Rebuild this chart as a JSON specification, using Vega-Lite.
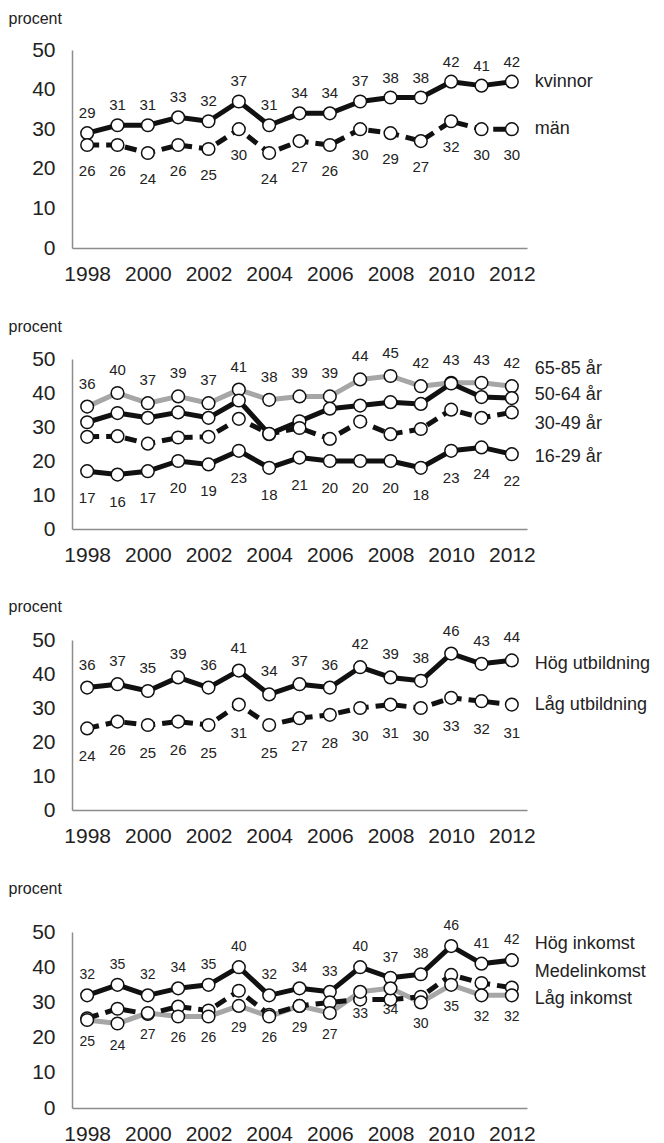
{
  "$schema": "https://vega.github.io/schema/vega-lite/v6.json",
  "background": "white",
  "padding": {"left": 8, "top": 10, "right": 0, "bottom": 0},
  "config": {
    "view": {"stroke": null},
    "font": "Liberation Sans",
    "axis": {
      "domainColor": "#8c8c8c",
      "domainWidth": 1.5,
      "ticks": false,
      "grid": false,
      "labelFont": "Liberation Sans",
      "labelFontSize": 21,
      "labelColor": "#222222",
      "labelOverlap": false,
      "titleFont": "Liberation Sans",
      "titleFontSize": 16,
      "titleFontWeight": "normal",
      "titleColor": "#222222"
    },
    "text": {"font": "Liberation Sans", "color": "#222222"},
    "line": {"strokeWidth": 5, "strokeCap": "butt", "strokeJoin": "round"}
  },
  "datasets": {
    "p1": [
      {"year": 1998, "series": "kvinnor", "value": 29}, {"year": 1999, "series": "kvinnor", "value": 31}, {"year": 2000, "series": "kvinnor", "value": 31}, {"year": 2001, "series": "kvinnor", "value": 33}, {"year": 2002, "series": "kvinnor", "value": 32}, {"year": 2003, "series": "kvinnor", "value": 37}, {"year": 2004, "series": "kvinnor", "value": 31}, {"year": 2005, "series": "kvinnor", "value": 34}, {"year": 2006, "series": "kvinnor", "value": 34}, {"year": 2007, "series": "kvinnor", "value": 37}, {"year": 2008, "series": "kvinnor", "value": 38}, {"year": 2009, "series": "kvinnor", "value": 38}, {"year": 2010, "series": "kvinnor", "value": 42}, {"year": 2011, "series": "kvinnor", "value": 41}, {"year": 2012, "series": "kvinnor", "value": 42},
      {"year": 1998, "series": "män", "value": 26}, {"year": 1999, "series": "män", "value": 26}, {"year": 2000, "series": "män", "value": 24}, {"year": 2001, "series": "män", "value": 26}, {"year": 2002, "series": "män", "value": 25}, {"year": 2003, "series": "män", "value": 30}, {"year": 2004, "series": "män", "value": 24}, {"year": 2005, "series": "män", "value": 27}, {"year": 2006, "series": "män", "value": 26}, {"year": 2007, "series": "män", "value": 30}, {"year": 2008, "series": "män", "value": 29}, {"year": 2009, "series": "män", "value": 27}, {"year": 2010, "series": "män", "value": 32}, {"year": 2011, "series": "män", "value": 30}, {"year": 2012, "series": "män", "value": 30}
    ],
    "p2": [
      {"year": 1998, "series": "65-85 år", "value": 36}, {"year": 1999, "series": "65-85 år", "value": 40}, {"year": 2000, "series": "65-85 år", "value": 37}, {"year": 2001, "series": "65-85 år", "value": 39}, {"year": 2002, "series": "65-85 år", "value": 37}, {"year": 2003, "series": "65-85 år", "value": 41}, {"year": 2004, "series": "65-85 år", "value": 38}, {"year": 2005, "series": "65-85 år", "value": 39}, {"year": 2006, "series": "65-85 år", "value": 39}, {"year": 2007, "series": "65-85 år", "value": 44}, {"year": 2008, "series": "65-85 år", "value": 45}, {"year": 2009, "series": "65-85 år", "value": 42}, {"year": 2010, "series": "65-85 år", "value": 43}, {"year": 2011, "series": "65-85 år", "value": 43}, {"year": 2012, "series": "65-85 år", "value": 42},
      {"year": 1998, "series": "50-64 år", "value": 31.4}, {"year": 1999, "series": "50-64 år", "value": 34.1}, {"year": 2000, "series": "50-64 år", "value": 32.7}, {"year": 2001, "series": "50-64 år", "value": 34.3}, {"year": 2002, "series": "50-64 år", "value": 32.7}, {"year": 2003, "series": "50-64 år", "value": 37.8}, {"year": 2004, "series": "50-64 år", "value": 27.9}, {"year": 2005, "series": "50-64 år", "value": 31.7}, {"year": 2006, "series": "50-64 år", "value": 35.4}, {"year": 2007, "series": "50-64 år", "value": 36.3}, {"year": 2008, "series": "50-64 år", "value": 37.3}, {"year": 2009, "series": "50-64 år", "value": 36.8}, {"year": 2010, "series": "50-64 år", "value": 42.8}, {"year": 2011, "series": "50-64 år", "value": 38.8}, {"year": 2012, "series": "50-64 år", "value": 38.5},
      {"year": 1998, "series": "30-49 år", "value": 27.1}, {"year": 1999, "series": "30-49 år", "value": 27.3}, {"year": 2000, "series": "30-49 år", "value": 25.1}, {"year": 2001, "series": "30-49 år", "value": 26.9}, {"year": 2002, "series": "30-49 år", "value": 27.1}, {"year": 2003, "series": "30-49 år", "value": 32.4}, {"year": 2004, "series": "30-49 år", "value": 28.0}, {"year": 2005, "series": "30-49 år", "value": 29.7}, {"year": 2006, "series": "30-49 år", "value": 26.5}, {"year": 2007, "series": "30-49 år", "value": 31.6}, {"year": 2008, "series": "30-49 år", "value": 27.9}, {"year": 2009, "series": "30-49 år", "value": 29.4}, {"year": 2010, "series": "30-49 år", "value": 35.1}, {"year": 2011, "series": "30-49 år", "value": 32.7}, {"year": 2012, "series": "30-49 år", "value": 34.3},
      {"year": 1998, "series": "16-29 år", "value": 17}, {"year": 1999, "series": "16-29 år", "value": 16}, {"year": 2000, "series": "16-29 år", "value": 17}, {"year": 2001, "series": "16-29 år", "value": 20}, {"year": 2002, "series": "16-29 år", "value": 19}, {"year": 2003, "series": "16-29 år", "value": 23}, {"year": 2004, "series": "16-29 år", "value": 18}, {"year": 2005, "series": "16-29 år", "value": 21}, {"year": 2006, "series": "16-29 år", "value": 20}, {"year": 2007, "series": "16-29 år", "value": 20}, {"year": 2008, "series": "16-29 år", "value": 20}, {"year": 2009, "series": "16-29 år", "value": 18}, {"year": 2010, "series": "16-29 år", "value": 23}, {"year": 2011, "series": "16-29 år", "value": 24}, {"year": 2012, "series": "16-29 år", "value": 22}
    ],
    "p3": [
      {"year": 1998, "series": "Hög utbildning", "value": 36}, {"year": 1999, "series": "Hög utbildning", "value": 37}, {"year": 2000, "series": "Hög utbildning", "value": 35}, {"year": 2001, "series": "Hög utbildning", "value": 39}, {"year": 2002, "series": "Hög utbildning", "value": 36}, {"year": 2003, "series": "Hög utbildning", "value": 41}, {"year": 2004, "series": "Hög utbildning", "value": 34}, {"year": 2005, "series": "Hög utbildning", "value": 37}, {"year": 2006, "series": "Hög utbildning", "value": 36}, {"year": 2007, "series": "Hög utbildning", "value": 42}, {"year": 2008, "series": "Hög utbildning", "value": 39}, {"year": 2009, "series": "Hög utbildning", "value": 38}, {"year": 2010, "series": "Hög utbildning", "value": 46}, {"year": 2011, "series": "Hög utbildning", "value": 43}, {"year": 2012, "series": "Hög utbildning", "value": 44},
      {"year": 1998, "series": "Låg utbildning", "value": 24}, {"year": 1999, "series": "Låg utbildning", "value": 26}, {"year": 2000, "series": "Låg utbildning", "value": 25}, {"year": 2001, "series": "Låg utbildning", "value": 26}, {"year": 2002, "series": "Låg utbildning", "value": 25}, {"year": 2003, "series": "Låg utbildning", "value": 31}, {"year": 2004, "series": "Låg utbildning", "value": 25}, {"year": 2005, "series": "Låg utbildning", "value": 27}, {"year": 2006, "series": "Låg utbildning", "value": 28}, {"year": 2007, "series": "Låg utbildning", "value": 30}, {"year": 2008, "series": "Låg utbildning", "value": 31}, {"year": 2009, "series": "Låg utbildning", "value": 30}, {"year": 2010, "series": "Låg utbildning", "value": 33}, {"year": 2011, "series": "Låg utbildning", "value": 32}, {"year": 2012, "series": "Låg utbildning", "value": 31}
    ],
    "p4": [
      {"year": 1998, "series": "Hög inkomst", "value": 32}, {"year": 1999, "series": "Hög inkomst", "value": 35}, {"year": 2000, "series": "Hög inkomst", "value": 32}, {"year": 2001, "series": "Hög inkomst", "value": 34}, {"year": 2002, "series": "Hög inkomst", "value": 35}, {"year": 2003, "series": "Hög inkomst", "value": 40}, {"year": 2004, "series": "Hög inkomst", "value": 32}, {"year": 2005, "series": "Hög inkomst", "value": 34}, {"year": 2006, "series": "Hög inkomst", "value": 33}, {"year": 2007, "series": "Hög inkomst", "value": 40}, {"year": 2008, "series": "Hög inkomst", "value": 37}, {"year": 2009, "series": "Hög inkomst", "value": 38}, {"year": 2010, "series": "Hög inkomst", "value": 46}, {"year": 2011, "series": "Hög inkomst", "value": 41}, {"year": 2012, "series": "Hög inkomst", "value": 42},
      {"year": 1998, "series": "Medelinkomst", "value": 25.5}, {"year": 1999, "series": "Medelinkomst", "value": 28.2}, {"year": 2000, "series": "Medelinkomst", "value": 26.7}, {"year": 2001, "series": "Medelinkomst", "value": 28.8}, {"year": 2002, "series": "Medelinkomst", "value": 27.7}, {"year": 2003, "series": "Medelinkomst", "value": 33.3}, {"year": 2004, "series": "Medelinkomst", "value": 26.5}, {"year": 2005, "series": "Medelinkomst", "value": 29.0}, {"year": 2006, "series": "Medelinkomst", "value": 30.0}, {"year": 2007, "series": "Medelinkomst", "value": 30.8}, {"year": 2008, "series": "Medelinkomst", "value": 30.8}, {"year": 2009, "series": "Medelinkomst", "value": 31.6}, {"year": 2010, "series": "Medelinkomst", "value": 37.8}, {"year": 2011, "series": "Medelinkomst", "value": 35.5}, {"year": 2012, "series": "Medelinkomst", "value": 34.2},
      {"year": 1998, "series": "Låg inkomst", "value": 25}, {"year": 1999, "series": "Låg inkomst", "value": 24}, {"year": 2000, "series": "Låg inkomst", "value": 27}, {"year": 2001, "series": "Låg inkomst", "value": 26}, {"year": 2002, "series": "Låg inkomst", "value": 26}, {"year": 2003, "series": "Låg inkomst", "value": 29}, {"year": 2004, "series": "Låg inkomst", "value": 26}, {"year": 2005, "series": "Låg inkomst", "value": 29}, {"year": 2006, "series": "Låg inkomst", "value": 27}, {"year": 2007, "series": "Låg inkomst", "value": 33}, {"year": 2008, "series": "Låg inkomst", "value": 34}, {"year": 2009, "series": "Låg inkomst", "value": 30}, {"year": 2010, "series": "Låg inkomst", "value": 35}, {"year": 2011, "series": "Låg inkomst", "value": 32}, {"year": 2012, "series": "Låg inkomst", "value": 32}
    ]
  },
  "bounds": "flush",
  "spacing": 111,
  "vconcat": [
    {
      "width": 455,
      "height": 198,
      "data": {"name": "p1"},
      "encoding": {
        "x": {"field": "year", "type": "quantitative", "scale": {"domain": [1997.5, 2012.5], "nice": false, "zero": false}, "axis": {"values": [1998, 2000, 2002, 2004, 2006, 2008, 2010, 2012], "format": "d", "title": null, "labelPadding": 15, "labelFlush": false}},
        "y": {"field": "value", "type": "quantitative", "scale": {"domain": [0, 50], "nice": false}, "axis": {"values": [0, 10, 20, 30, 40, 50], "title": "procent", "titleAngle": 0, "titleAlign": "left", "titleBaseline": "middle", "titleX": -64, "titleY": -32, "labelPadding": 17}}
      },
      "layer": [
        {"transform": [{"filter": "datum.series === 'kvinnor'"}], "mark": {"type": "line", "color": "#111111"}, "encoding": {}},
        {"transform": [{"filter": "datum.series === 'män'"}], "mark": {"type": "line", "color": "#111111", "strokeDash": [12, 7]}, "encoding": {}},
        {"mark": {"type": "point", "shape": "circle", "filled": true, "fill": "white", "stroke": "#111111", "strokeWidth": 1.5, "size": 160, "opacity": 1}, "encoding": {"detail": {"field": "series", "type": "nominal"}}},
        {"transform": [{"filter": "datum.series === 'kvinnor'"}], "mark": {"type": "text", "fontSize": 15, "dy": -20, "baseline": "middle"}, "encoding": {"text": {"field": "value", "type": "quantitative", "format": ".0f"}}},
        {"transform": [{"filter": "datum.series === 'män'"}], "mark": {"type": "text", "fontSize": 15, "dy": 26, "baseline": "middle"}, "encoding": {"text": {"field": "value", "type": "quantitative", "format": ".0f"}}},
        {"transform": [{"filter": "datum.year === 2012"}], "mark": {"type": "text", "fontSize": 18, "align": "left", "baseline": "middle", "dx": 23}, "encoding": {"text": {"field": "series", "type": "nominal"}}}
      ]
    },
    {
      "width": 455,
      "height": 170,
      "data": {"name": "p2"},
      "encoding": {
        "x": {"field": "year", "type": "quantitative", "scale": {"domain": [1997.5, 2012.5], "nice": false, "zero": false}, "axis": {"values": [1998, 2000, 2002, 2004, 2006, 2008, 2010, 2012], "format": "d", "title": null, "labelPadding": 15, "labelFlush": false}},
        "y": {"field": "value", "type": "quantitative", "scale": {"domain": [0, 50], "nice": false}, "axis": {"values": [0, 10, 20, 30, 40, 50], "title": "procent", "titleAngle": 0, "titleAlign": "left", "titleBaseline": "middle", "titleX": -64, "titleY": -33, "labelPadding": 17}}
      },
      "layer": [
        {"transform": [{"filter": "datum.series === '65-85 år'"}], "mark": {"type": "line", "color": "#a6a6a6"}, "encoding": {}},
        {"transform": [{"filter": "datum.series === '50-64 år'"}], "mark": {"type": "line", "color": "#111111"}, "encoding": {}},
        {"transform": [{"filter": "datum.series === '30-49 år'"}], "mark": {"type": "line", "color": "#111111", "strokeDash": [12, 7]}, "encoding": {}},
        {"transform": [{"filter": "datum.series === '16-29 år'"}], "mark": {"type": "line", "color": "#111111"}, "encoding": {}},
        {"mark": {"type": "point", "shape": "circle", "filled": true, "fill": "white", "stroke": "#111111", "strokeWidth": 1.5, "size": 160, "opacity": 1}, "encoding": {"detail": {"field": "series", "type": "nominal"}}},
        {"transform": [{"filter": "datum.series === '65-85 år'"}], "mark": {"type": "text", "fontSize": 15, "dy": -23, "baseline": "middle"}, "encoding": {"text": {"field": "value", "type": "quantitative", "format": ".0f"}}},
        {"transform": [{"filter": "datum.series === '16-29 år'"}], "mark": {"type": "text", "fontSize": 15, "dy": 27, "baseline": "middle"}, "encoding": {"text": {"field": "value", "type": "quantitative", "format": ".0f"}}},
        {"transform": [{"filter": "datum.year === 2012 && datum.series === '65-85 år'"}], "mark": {"type": "text", "fontSize": 18, "align": "left", "baseline": "middle", "dx": 23, "dy": -17}, "encoding": {"text": {"field": "series", "type": "nominal"}}},
        {"transform": [{"filter": "datum.year === 2012 && datum.series === '50-64 år'"}], "mark": {"type": "text", "fontSize": 18, "align": "left", "baseline": "middle", "dx": 23, "dy": -3}, "encoding": {"text": {"field": "series", "type": "nominal"}}},
        {"transform": [{"filter": "datum.year === 2012 && datum.series === '30-49 år'"}], "mark": {"type": "text", "fontSize": 18, "align": "left", "baseline": "middle", "dx": 23, "dy": 12}, "encoding": {"text": {"field": "series", "type": "nominal"}}},
        {"transform": [{"filter": "datum.year === 2012 && datum.series === '16-29 år'"}], "mark": {"type": "text", "fontSize": 18, "align": "left", "baseline": "middle", "dx": 23, "dy": 3}, "encoding": {"text": {"field": "series", "type": "nominal"}}}
      ]
    },
    {
      "width": 455,
      "height": 170,
      "data": {"name": "p3"},
      "encoding": {
        "x": {"field": "year", "type": "quantitative", "scale": {"domain": [1997.5, 2012.5], "nice": false, "zero": false}, "axis": {"values": [1998, 2000, 2002, 2004, 2006, 2008, 2010, 2012], "format": "d", "title": null, "labelPadding": 15, "labelFlush": false}},
        "y": {"field": "value", "type": "quantitative", "scale": {"domain": [0, 50], "nice": false}, "axis": {"values": [0, 10, 20, 30, 40, 50], "title": "procent", "titleAngle": 0, "titleAlign": "left", "titleBaseline": "middle", "titleX": -64, "titleY": -34, "labelPadding": 17}}
      },
      "layer": [
        {"transform": [{"filter": "datum.series === 'Hög utbildning'"}], "mark": {"type": "line", "color": "#111111"}, "encoding": {}},
        {"transform": [{"filter": "datum.series === 'Låg utbildning'"}], "mark": {"type": "line", "color": "#111111", "strokeDash": [12, 7]}, "encoding": {}},
        {"mark": {"type": "point", "shape": "circle", "filled": true, "fill": "white", "stroke": "#111111", "strokeWidth": 1.5, "size": 160, "opacity": 1}, "encoding": {"detail": {"field": "series", "type": "nominal"}}},
        {"transform": [{"filter": "datum.series === 'Hög utbildning'"}], "mark": {"type": "text", "fontSize": 15, "dy": -23, "baseline": "middle"}, "encoding": {"text": {"field": "value", "type": "quantitative", "format": ".0f"}}},
        {"transform": [{"filter": "datum.series === 'Låg utbildning'"}], "mark": {"type": "text", "fontSize": 15, "dy": 28, "baseline": "middle"}, "encoding": {"text": {"field": "value", "type": "quantitative", "format": ".0f"}}},
        {"transform": [{"filter": "datum.year === 2012 && datum.series === 'Hög utbildning'"}], "mark": {"type": "text", "fontSize": 18, "align": "left", "baseline": "middle", "dx": 23, "dy": 4}, "encoding": {"text": {"field": "series", "type": "nominal"}}},
        {"transform": [{"filter": "datum.year === 2012 && datum.series === 'Låg utbildning'"}], "mark": {"type": "text", "fontSize": 18, "align": "left", "baseline": "middle", "dx": 23, "dy": 0}, "encoding": {"text": {"field": "series", "type": "nominal"}}}
      ]
    },
    {
      "width": 455,
      "height": 187,
      "data": {"name": "p4"},
      "encoding": {
        "x": {"field": "year", "type": "quantitative", "scale": {"domain": [1997.5, 2012.5], "nice": false, "zero": false}, "axis": {"values": [1998, 2000, 2002, 2004, 2006, 2008, 2010, 2012], "format": "d", "title": null, "labelPadding": 15, "labelFlush": false}},
        "y": {"field": "value", "type": "quantitative", "scale": {"domain": [0, 50], "nice": false, "range": [187, 11]}, "axis": {"values": [0, 10, 20, 30, 40, 50], "title": "procent", "titleAngle": 0, "titleAlign": "left", "titleBaseline": "middle", "titleX": -64, "titleY": -33, "labelPadding": 17}}
      },
      "layer": [
        {"transform": [{"filter": "datum.series === 'Låg inkomst'"}], "mark": {"type": "line", "color": "#a6a6a6"}, "encoding": {}},
        {"transform": [{"filter": "datum.series === 'Medelinkomst'"}], "mark": {"type": "line", "color": "#111111", "strokeDash": [12, 7]}, "encoding": {}},
        {"transform": [{"filter": "datum.series === 'Hög inkomst'"}], "mark": {"type": "line", "color": "#111111"}, "encoding": {}},
        {"mark": {"type": "point", "shape": "circle", "filled": true, "fill": "white", "stroke": "#111111", "strokeWidth": 1.5, "size": 160, "opacity": 1}, "encoding": {"detail": {"field": "series", "type": "nominal"}}},
        {"transform": [{"filter": "datum.series === 'Hög inkomst'"}], "mark": {"type": "text", "fontSize": 14, "dy": -20, "baseline": "middle"}, "encoding": {"text": {"field": "value", "type": "quantitative", "format": ".0f"}}},
        {"transform": [{"filter": "datum.series === 'Låg inkomst'"}], "mark": {"type": "text", "fontSize": 14, "dy": 22, "baseline": "middle"}, "encoding": {"text": {"field": "value", "type": "quantitative", "format": ".0f"}}},
        {"transform": [{"filter": "datum.year === 2012 && datum.series === 'Hög inkomst'"}], "mark": {"type": "text", "fontSize": 18, "align": "left", "baseline": "middle", "dx": 23, "dy": -16}, "encoding": {"text": {"field": "series", "type": "nominal"}}},
        {"transform": [{"filter": "datum.year === 2012 && datum.series === 'Medelinkomst'"}], "mark": {"type": "text", "fontSize": 18, "align": "left", "baseline": "middle", "dx": 23, "dy": -16}, "encoding": {"text": {"field": "series", "type": "nominal"}}},
        {"transform": [{"filter": "datum.year === 2012 && datum.series === 'Låg inkomst'"}], "mark": {"type": "text", "fontSize": 18, "align": "left", "baseline": "middle", "dx": 23, "dy": 4}, "encoding": {"text": {"field": "series", "type": "nominal"}}}
      ]
    }
  ]
}
